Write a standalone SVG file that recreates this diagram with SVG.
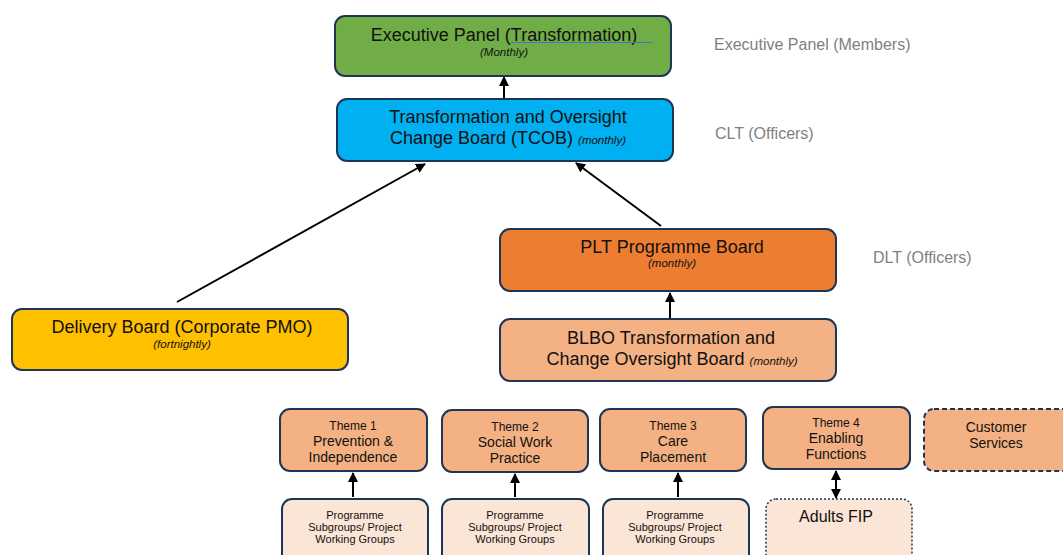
<svg xmlns="http://www.w3.org/2000/svg" width="1063" height="555" viewBox="0 0 1063 555">
<defs>
<marker id="ah" viewBox="0 0 10 10" refX="9" refY="5" markerWidth="10" markerHeight="10" markerUnits="userSpaceOnUse" orient="auto-start-reverse"><path d="M0,0 L10,5 L0,10 z" fill="#000"/></marker>
<style>
.box{stroke:#1F3556;stroke-width:2}
.t{font-family:"Liberation Sans",Arial,sans-serif;fill:#111;text-anchor:middle}
.big{font-size:18px}
.mid{font-size:14px}
.sm{font-size:12px}
.xs{font-size:11px}
.it{font-style:italic;font-size:11.5px}
.side{font-family:"Liberation Sans",Arial,sans-serif;fill:#7F7F7F;font-size:16px}
.c{stroke:#000;stroke-width:2;fill:none;marker-end:url(#ah)}
</style>
</defs>
<rect width="1063" height="555" fill="#fff"/>
<g id="connectors">
<line class="c" x1="504" y1="98" x2="504" y2="77"/>
<line class="c" x1="177" y1="302" x2="425" y2="164"/>
<line class="c" x1="661" y1="226" x2="576" y2="163"/>
<line class="c" x1="670" y1="318" x2="670" y2="293"/>
<line class="c" x1="353" y1="497" x2="353" y2="473"/>
<line class="c" x1="515" y1="497" x2="515" y2="474"/>
<line class="c" x1="678" y1="497" x2="678" y2="473"/>
<line class="c" x1="836" y1="471" x2="836" y2="498" style="marker-start:url(#ah)"/>
</g>
<g id="exec">
<rect class="box" x="335" y="16" width="336" height="60" rx="10" fill="#70AD47"/>
<text class="t big" x="504" y="41">Executive Panel (Transformation)</text>
<line x1="511" y1="42.5" x2="652" y2="42.5" stroke="#4472C4" stroke-width="1.2"/>
<text class="t it" x="504" y="56">(Monthly)</text>
</g>
<g id="tcob">
<rect class="box" x="337" y="99" width="336" height="62" rx="10" fill="#00B0F0"/>
<text class="t big" x="508" y="123">Transformation and Oversight</text>
<text class="t big" x="508" y="144">Change Board (TCOB) <tspan class="it">(monthly)</tspan></text>
</g>
<g id="plt">
<rect class="box" x="500" y="229" width="336" height="62" rx="10" fill="#ED7D31"/>
<text class="t big" x="672" y="253">PLT Programme Board</text>
<text class="t it" x="672" y="267">(monthly)</text>
</g>
<g id="blbo">
<rect class="box" x="500" y="319" width="336" height="62" rx="10" fill="#F4B183"/>
<text class="t big" x="671" y="344">BLBO Transformation and</text>
<text class="t big" x="672" y="365">Change Oversight Board <tspan class="it">(monthly)</tspan></text>
</g>
<g id="delivery">
<rect class="box" x="12" y="309" width="336" height="61" rx="10" fill="#FFC000"/>
<text class="t big" x="182" y="333">Delivery Board (Corporate PMO)</text>
<text class="t it" x="182" y="348">(fortnightly)</text>
</g>
<g id="theme1">
<rect class="box" x="280" y="409" width="147" height="62" rx="10" fill="#F4B183"/>
<text class="t sm" x="353" y="430">Theme 1</text>
<text class="t mid" x="353" y="446">Prevention &amp;</text>
<text class="t mid" x="353" y="462">Independence</text>
</g>
<g id="theme2">
<rect class="box" x="442" y="410" width="146" height="62" rx="10" fill="#F4B183"/>
<text class="t sm" x="515" y="431">Theme 2</text>
<text class="t mid" x="515" y="447">Social Work</text>
<text class="t mid" x="515" y="463">Practice</text>
</g>
<g id="theme3">
<rect class="box" x="600" y="409" width="146" height="62" rx="10" fill="#F4B183"/>
<text class="t sm" x="673" y="430">Theme 3</text>
<text class="t mid" x="673" y="446">Care</text>
<text class="t mid" x="673" y="462">Placement</text>
</g>
<g id="theme4">
<rect class="box" x="763" y="407" width="147" height="62" rx="10" fill="#F4B183"/>
<text class="t sm" x="836" y="427">Theme 4</text>
<text class="t mid" x="836" y="443">Enabling</text>
<text class="t mid" x="836" y="459">Functions</text>
</g>
<g id="customer">
<rect class="box" x="924" y="409" width="150" height="62" rx="10" fill="#F4B183" stroke-dasharray="5,3"/>
<text class="t mid" x="996" y="432">Customer</text>
<text class="t mid" x="996" y="448">Services</text>
</g>
<g id="sub1">
<rect class="box" x="282" y="499" width="146" height="70" rx="10" fill="#FBE5D6"/>
<text class="t xs" x="355" y="519">Programme</text>
<text class="t xs" x="355" y="531">Subgroups/ Project</text>
<text class="t xs" x="355" y="543">Working Groups</text>
</g>
<g id="sub2">
<rect class="box" x="442" y="499" width="147" height="70" rx="10" fill="#FBE5D6"/>
<text class="t xs" x="515" y="519">Programme</text>
<text class="t xs" x="515" y="531">Subgroups/ Project</text>
<text class="t xs" x="515" y="543">Working Groups</text>
</g>
<g id="sub3">
<rect class="box" x="603" y="499" width="146" height="70" rx="10" fill="#FBE5D6"/>
<text class="t xs" x="675" y="519">Programme</text>
<text class="t xs" x="675" y="531">Subgroups/ Project</text>
<text class="t xs" x="675" y="543">Working Groups</text>
</g>
<g id="adultsfip">
<rect x="766" y="499" width="146" height="70" rx="10" fill="#FBE5D6" stroke="#1F3556" stroke-width="1.5" stroke-dasharray="2,2"/>
<text class="t" style="font-size:16px" x="836" y="522">Adults FIP</text>
</g>
<g id="labels">
<text class="side" x="714" y="50">Executive Panel (Members)</text>
<text class="side" x="715" y="139">CLT (Officers)</text>
<text class="side" x="873" y="263">DLT (Officers)</text>
</g>
</svg>
